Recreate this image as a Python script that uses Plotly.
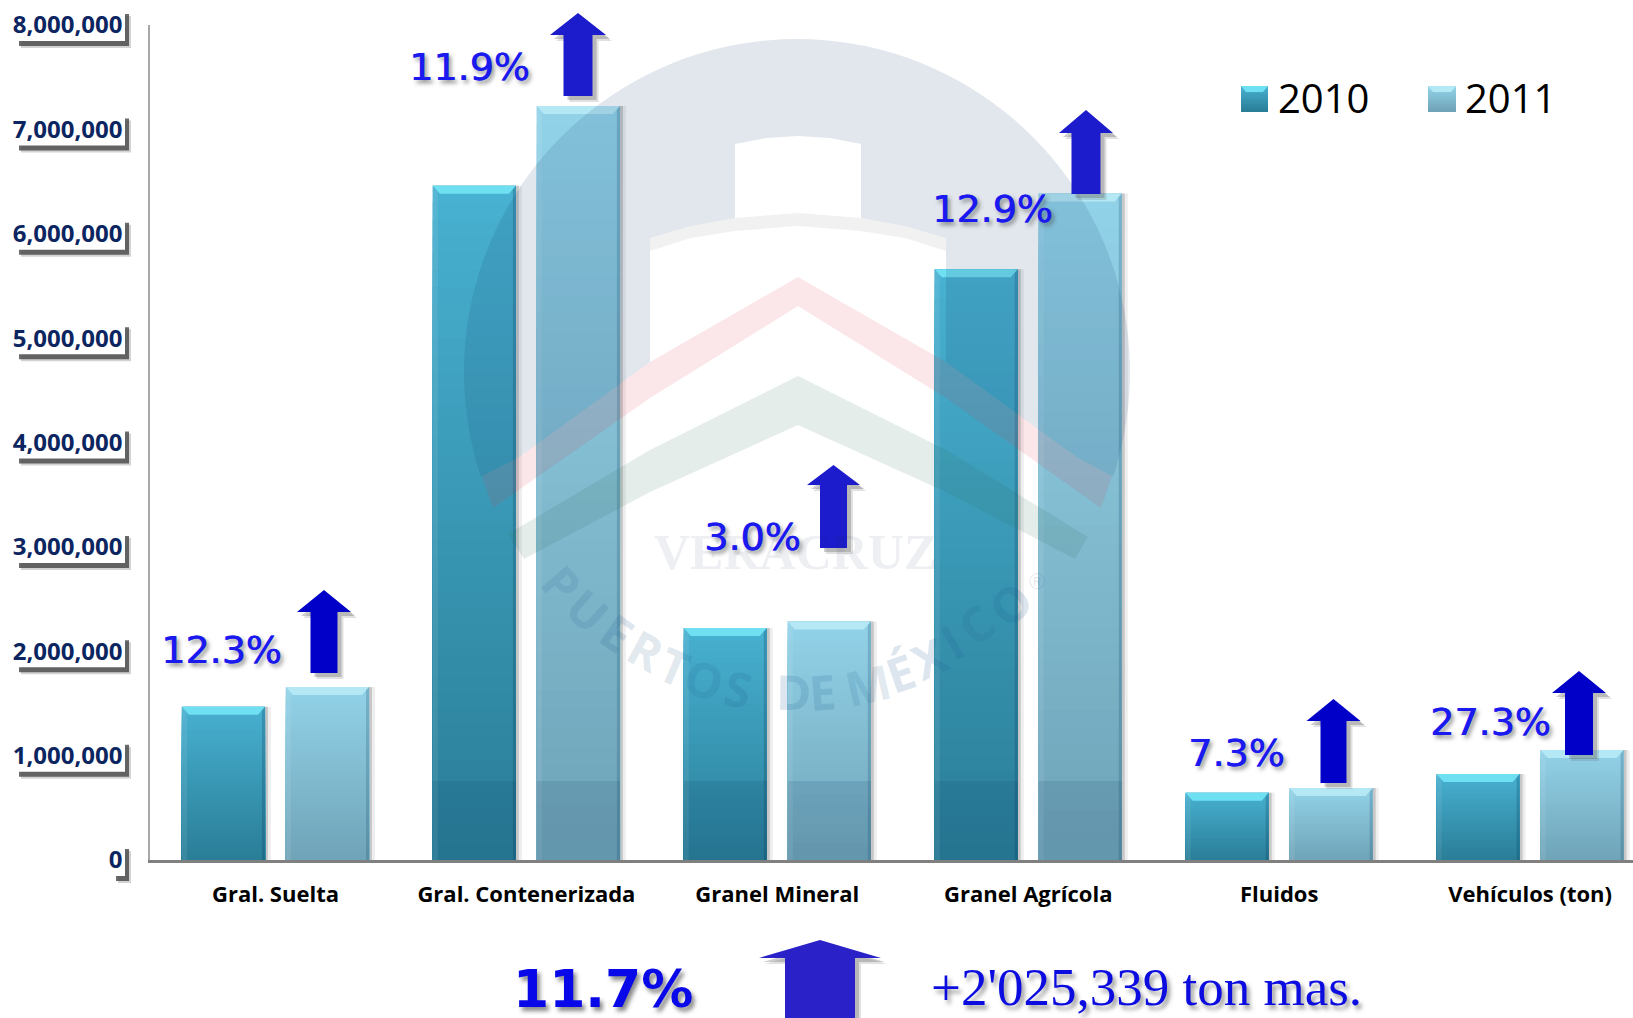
import math
import plotly.graph_objects as go

W, H = 1633, 1018

categories = ["Gral. Suelta", "Gral. Contenerizada", "Granel Mineral",
              "Granel Agrícola", "Fluidos", "Vehículos (ton)"]
values_2010 = [1468000, 6459000, 2222000, 5660000, 645000, 824000]
values_2011 = [1657000, 7225000, 2285000, 6385000, 690000, 1054000]
growth_labels = ["12.3%", "11.9%", "3.0%", "12.9%", "7.3%", "27.3%"]
tick_values = [0, 1000000, 2000000, 3000000, 4000000, 5000000, 6000000, 7000000, 8000000]
tick_labels = ["0", "1,000,000", "2,000,000", "3,000,000", "4,000,000",
               "5,000,000", "6,000,000", "7,000,000", "8,000,000"]
total_label = "11.7%"
total_text = "+2'025,339 ton mas."
series_names = ["2010", "2011"]

BARGAP = 0.171
GROUPGAP = 0.2
SLOT = (1 - BARGAP) / 2
OFF = SLOT / 2
BAND_TOP = 757000
AXIS_TOP, AXIS_BOTTOM = 25, 860


def X(p):
    return p / W


def Y(p):
    return 1 - p / H


def lerp(c1, c2, t):
    return "rgb(%d,%d,%d)" % tuple(round(a + (b - a) * t) for a, b in zip(c1, c2))


def poly(pts, close=True):
    s = "M " + " L ".join(f"{X(a):.5f},{Y(b):.5f}" for a, b in pts)
    return s + (" Z" if close else "")


shapes = []
annotations = []


def page_path(pts, fill):
    shapes.append(dict(type="path", xref="paper", yref="paper", path=poly(pts),
                       fillcolor=fill, line=dict(width=0), layer="above"))


# gradient, bevel and shadow on each bar, anchored to the data values
STYLE = [
    dict(top=(72, 176, 208), bottom=(42, 126, 152), bevel="#6fdff2", edge="rgba(0,50,80,0.22)"),
    dict(top=(146, 210, 232), bottom=(112, 164, 184), bevel="#b4e8f4", edge="rgba(20,70,100,0.22)"),
]
N = 40
for s_i, vals in enumerate([values_2010, values_2011]):
    st = STYLE[s_i]
    for i, v in enumerate(vals):
        cx = i + (-OFF if s_i == 0 else OFF)
        half = SLOT * (1 - GROUPGAP) / 2
        for dx0, dx1, col in [(41.5, 44.5, "rgba(70,70,70,0.30)"), (44.5, 47.5, "rgba(90,90,90,0.10)")]:
            shapes.append(dict(type="rect", xref="x", yref="y", xsizemode="pixel", xanchor=cx,
                               x0=dx0, x1=dx1, y0=0, y1=v, fillcolor=col, line=dict(width=0), layer="above"))
        for k in range(N):
            t = k / (N - 1)
            shapes.append(dict(type="rect", xref="x", yref="y", x0=cx - half, x1=cx + half,
                               y0=0, y1=v * (1 - k / N), fillcolor=lerp(st["top"], st["bottom"], t),
                               line=dict(width=0), layer="above"))
        shapes.append(dict(type="rect", xref="x", yref="y", xsizemode="pixel", xanchor=cx,
                           x0=-41.5, x1=-36.5, y0=0, y1=v, fillcolor="rgba(255,255,255,0.08)",
                           line=dict(width=0), layer="above"))
        shapes.append(dict(type="rect", xref="x", yref="y", xsizemode="pixel", xanchor=cx,
                           x0=38.5, x1=41.5, y0=0, y1=v, fillcolor=st["edge"],
                           line=dict(width=0), layer="above"))
        shapes.append(dict(type="path", xref="x", yref="y", xsizemode="pixel", ysizemode="pixel",
                           xanchor=cx, yanchor=v, path="M -41.5 0 L 41.5 0 L 34.5 -8 L -34.5 -8 Z",
                           fillcolor=st["bevel"], line=dict(width=0), layer="above"))
        if i in (1, 2, 3):
            shapes.append(dict(type="rect", xref="x", yref="y", x0=cx - half, x1=cx + half,
                               y0=0, y1=BAND_TOP, fillcolor="rgba(0,50,90,0.11)",
                               line=dict(width=0), layer="above"))

# watermark logo
CX, CY, R = 797, 372, 333
start = math.atan2(476 - CY, 482 - CX)
end = math.atan2(476 - CY, 1112 - CX)
if start < 0:
    start += 2 * math.pi
arc = []
steps = 90
total = (end + 2 * math.pi) - start
for k in range(steps + 1):
    a = start + total * k / steps
    arc.append((CX + R * math.cos(a), CY + R * math.sin(a)))
hole = [(1112, 476), (1078, 458), (946, 362), (946, 238), (905, 226), (861, 218), (861, 144),
        (830, 138), (798, 136), (766, 138), (735, 144), (735, 218), (691, 226), (650, 238),
        (650, 362), (518, 458)]
page_path(arc + hole, "rgba(20,60,110,0.12)")
page_path([(650, 238), (691, 226), (735, 218), (798, 213), (861, 218), (905, 226), (946, 238),
           (946, 251), (905, 238), (861, 231), (798, 226), (735, 231), (691, 238), (650, 251)],
          "rgba(60,60,60,0.07)")
page_path([(493, 508), (482, 476), (518, 458), (650, 362), (798, 277),
           (946, 362), (1078, 458), (1112, 476), (1101, 508), (946, 398), (798, 306),
           (650, 398)], "rgba(225,60,70,0.12)")
page_path([(508, 534), (650, 450), (798, 376), (946, 450), (1088, 537),
           (1075, 559), (946, 492), (798, 425), (650, 492), (524, 559)],
          "rgba(40,110,80,0.12)")


def page_text(text, x, y, size, color, family="DejaVu Sans", weight="normal", angle=0, shadow=None):
    f = dict(size=size, color=color, family=family, weight=weight)
    if shadow:
        f["shadow"] = shadow
    annotations.append(dict(text=text, xref="paper", yref="paper", x=X(x), y=Y(y), xanchor="center",
                            yanchor="middle", showarrow=False, font=f, textangle=angle))


page_text("VERACRUZ", 795, 552, 50, "rgba(30,50,90,0.08)", "Liberation Serif", "bold")
letters = [("P", 250, 1240), ("U", 310, 1300), ("E", 375, 1350), ("R", 440, 1390), ("T", 505, 1425),
           ("O", 570, 1455), ("S", 645, 1475), ("D", 770, 1482), ("E", 835, 1482), ("M", 935, 1465),
           ("É", 1010, 1440), ("X", 1075, 1405), ("I", 1125, 1370), ("C", 1180, 1330), ("O", 1255, 1285)]
for ch, zx, zy in letters:
    ang = math.degrees(math.atan2(780 - zx, zy - 770))
    page_text(ch, zx / 2.24 + 450, zy / 2.24 + 30, 48, "rgba(30,90,140,0.15)", "Open Sans", "bold", ang)
page_text("®", 1315 / 2.24 + 450, 1235 / 2.24 + 30, 22, "rgba(30,60,100,0.12)", "Liberation Sans")


# tick label plates, placed by tick value
for val, lab in zip(tick_values, tick_labels):
    left = 112 if lab == "0" else 15
    py = AXIS_BOTTOM - val * (AXIS_BOTTOM - AXIS_TOP) / tick_values[-1]
    for dx, dy, col in [(6, 7, "rgba(110,110,110,0.30)"), (4, 5, "rgba(70,70,70,0.80)"), (0, 0, "white")]:
        shapes.append(dict(type="rect", xref="paper", yref="paper",
                           x0=X(left + dx), x1=X(125 + dx),
                           y0=Y(py + 16 + dy), y1=Y(py - 16 + dy),
                           fillcolor=col, line=dict(width=0), layer="below"))

# growth arrows
ARROW_SPECS = [
    (324, 590, 612, 673, 27, 13.5, "#0000c8"),
    (578, 13, 35, 96, 28, 14.5, "#1c1ccc"),
    (833.5, 465, 485, 548, 26.5, 13.5, "#1c1ccc"),
    (1086, 110, 133, 194, 27, 14.5, "#1c1ccc"),
    (1333.5, 699, 721, 783, 27, 13, "#0000c8"),
    (1579, 671, 693, 755, 27, 14, "#0000c8"),
    (820, 940, 958, 1030, 61, 35, "#2a22c8"),
]
for cx, tip, base, bot, hw, sw, col in ARROW_SPECS:
    for d, fill in [(6, "rgba(90,90,90,0.18)"), (4, "rgba(90,90,90,0.3)"), (0, col)]:
        pts = [(cx, tip), (cx + hw, base), (cx + sw, base), (cx + sw, bot),
               (cx - sw, bot), (cx - sw, base), (cx - hw, base)]
        page_path([(a + d, b + d) for a, b in pts], fill)

# growth percentages
LABEL_POS = [(221, 650), (469.5, 67), (752, 536.5), (992, 209), (1236, 753), (1490, 722)]
for txt, (lx, ly) in zip(growth_labels, LABEL_POS):
    page_text(txt, lx, ly, 38, "#1a1af0", "DejaVu Sans", "normal", 0,
              "0.7px 0 0 #1a1af0, 3px 3px 4px rgba(60,60,60,0.6)")
page_text(total_label, 603, 989, 52, "#0808e8", "DejaVu Sans", "bold", 0, "3px 4px 4px rgba(60,60,60,0.6)")
page_text(total_text, 1146, 987, 53, "#0c0ce0", "Liberation Serif", "normal", 0, "3px 4px 4px rgba(70,70,70,0.55)")

# legend
LEG = [(1241, 1268, 1323, series_names[0], STYLE[0]), (1428, 1456, 1510, series_names[1], STYLE[1])]
for x0, x1, tx, name, st in LEG:
    for k in range(10):
        page_y0 = 86 + 26 * k / 10
        shapes.append(dict(type="rect", xref="paper", yref="paper", x0=X(x0), x1=X(x1), y0=Y(112), y1=Y(page_y0),
                           fillcolor=lerp(st["top"], st["bottom"], k / 9), line=dict(width=0), layer="above"))
    page_path([(x0, 86), (x1, 86), (x1 - 5, 92), (x0 + 5, 92)], st["bevel"])
    page_text(name, tx, 97, 40, "black", "Open Sans")

fig = go.Figure()
fig.add_trace(go.Bar(name=series_names[0], x=categories, y=values_2010, marker=dict(color="#3a9fbe", line=dict(width=0))))
fig.add_trace(go.Bar(name=series_names[1], x=categories, y=values_2011, marker=dict(color="#84c0d8", line=dict(width=0))))
fig.update_layout(
    width=W, height=H, autosize=False, margin=dict(l=0, r=0, t=0, b=0),
    paper_bgcolor="white", plot_bgcolor="rgba(0,0,0,0)", showlegend=False,
    barmode="group", bargap=BARGAP, bargroupgap=GROUPGAP,
    shapes=shapes, annotations=annotations,
    xaxis=dict(domain=[150 / W, 1], range=[-0.5, 5.41], type="category", categoryorder="array", automargin=False,
               categoryarray=categories, showgrid=False, showline=True, linecolor="#808080", linewidth=2.5,
               ticks="outside", ticklen=13, tickcolor="rgba(0,0,0,0)",
               tickfont=dict(family="Open Sans", size=22, color="black", weight="bold"), zeroline=False),
    yaxis=dict(domain=[1 - AXIS_BOTTOM / H, 1 - AXIS_TOP / H], range=[0, 8000000], tickmode="array", tickvals=tick_values,
               ticktext=tick_labels, showgrid=False, showline=True, linecolor="#a8a8a8", linewidth=1.5, automargin=False,
               ticks="outside", ticklen=21, tickcolor="rgba(0,0,0,0)", zeroline=False,
               tickfont=dict(family="Open Sans", size=24, color="#0b2560", weight="bold")),
)
fig.write_html("out.html", config=dict(displayModeBar=False),
               post_script="document.body.style.margin='0';document.body.style.overflow='hidden';")
